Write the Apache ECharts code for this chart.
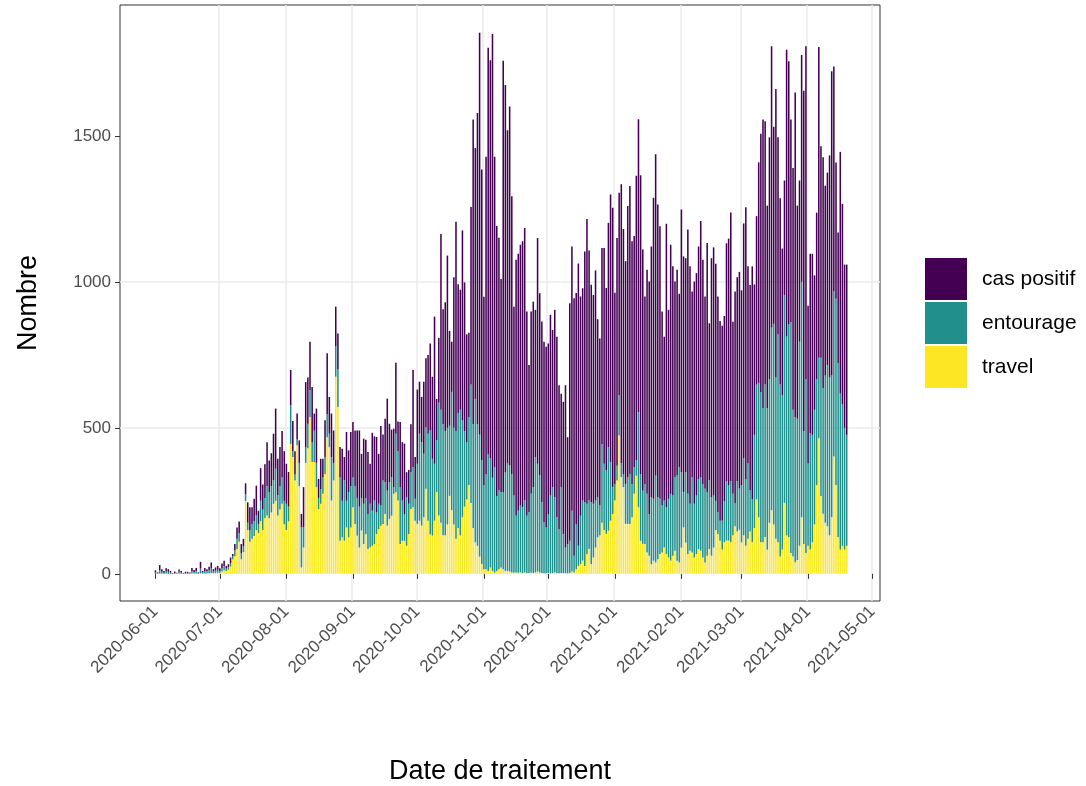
<!DOCTYPE html>
<html>
<head>
<meta charset="utf-8">
<script src="https://cdn.jsdelivr.net/npm/echarts@6/dist/echarts.min.js"></script>
<style>
  html, body { margin: 0; padding: 0; background: #ffffff; }
  #chart { width: 1086px; height: 786px; }
</style>
</head>
<body>
<div id="chart"></div>
<script>
// Daily counts by category, one entry per day starting on firstDay.
const firstDay = '2020-06-01';

const travel = [
  0,0,1,0,0,1,0,0,0,0,
  0,1,0,0,0,0,0,1,1,1,
  0,2,1,1,1,2,3,2,3,4,
  4,8,12,10,14,25,50,60,85,110,
  50,75,250,150,110,120,130,150,140,180,
  150,190,200,190,210,240,250,200,220,240,
  170,150,180,445,400,320,440,300,22,90,
  380,430,537,383,383,297,222,240,274,342,
  468,434,251,320,675,571,113,125,113,159,
  125,159,228,171,131,90,148,102,136,85,
  90,96,102,136,153,165,171,205,165,188,
  199,274,279,251,102,113,113,96,136,222,
  228,182,171,182,165,194,291,182,136,131,
  182,280,200,175,132,132,169,267,218,169,
  120,157,132,194,230,255,304,243,157,108,
  96,59,34,16,16,10,22,10,4,10,
  16,22,16,10,10,8,5,5,5,4,
  5,3,5,3,3,4,3,5,8,5,
  3,2,2,3,2,3,5,3,2,3,
  3,2,2,3,8,5,16,27,33,45,
  27,68,85,33,56,90,125,132,175,150,
  137,148,182,205,251,320,474,331,297,171,
  171,171,194,274,336,228,113,103,102,73,
  62,33,45,39,50,68,73,90,68,56,
  45,62,79,45,39,90,159,107,68,79,
  73,56,68,85,79,56,39,62,85,62,
  90,150,136,113,83,108,114,114,108,132,
  163,145,151,108,132,96,120,145,108,157,
  255,194,108,108,126,83,175,218,169,120,
  108,59,83,243,132,126,71,59,40,47,
  96,194,102,71,96,83,108,169,304,464,
  267,206,175,163,132,194,402,304,126,83,
  96,83,96
];

const entourage = [
  5,2,12,7,4,8,7,4,1,3,
  2,6,4,1,3,3,2,9,5,8,
  2,16,4,8,7,10,15,6,8,10,
  6,12,14,8,9,12,10,20,35,30,
  20,20,23,25,40,50,50,50,30,70,
  70,70,100,90,90,80,110,70,80,90,
  80,90,50,132,20,20,20,80,137,69,
  54,84,92,67,107,83,38,50,56,58,
  79,46,149,60,105,129,217,125,207,91,
  155,141,102,129,129,140,112,138,123,120,
  150,120,149,74,87,69,149,109,120,126,
  132,23,201,169,195,138,92,166,104,126,
  137,75,206,298,286,217,212,298,355,263,
  195,178,386,387,381,356,331,240,405,331,
  368,393,430,331,258,196,233,405,356,491,
  417,417,356,288,325,399,374,319,362,257,
  270,258,264,337,368,363,337,263,194,212,
  229,225,246,196,208,270,294,395,369,332,
  242,175,157,202,266,294,257,191,151,294,
  133,88,100,110,208,57,155,69,166,206,
  218,172,166,212,184,161,137,102,270,227,
  217,286,201,92,57,50,138,49,43,137,
  160,171,114,91,52,326,229,182,206,201,
  143,229,212,298,212,189,161,161,160,201,
  229,206,252,292,326,258,121,241,206,161,
  258,184,200,240,252,252,252,218,235,200,
  178,100,75,69,99,141,203,190,209,142,
  80,172,141,196,264,227,258,141,147,319,
  393,460,515,460,522,485,491,626,687,552,
  712,589,528,712,681,730,791,503,497,484,
  699,806,386,595,282,399,368,393,362,276,
  473,430,504,552,540,485,565,638,595,534,
  484,417,380
];

const casPositif = [
  7,3,17,9,6,10,9,6,2,5,
  2,8,6,2,4,4,3,10,7,11,
  3,23,5,11,8,12,21,8,11,13,
  9,15,19,9,10,19,8,22,39,39,
  32,25,37,70,78,58,77,102,46,112,
  86,115,151,108,113,160,206,124,134,159,
  170,137,119,121,103,80,89,77,46,138,
  223,158,166,190,59,186,65,104,64,126,
  208,126,149,111,135,123,104,178,80,236,
  143,186,190,191,231,261,151,223,200,212,
  137,267,220,259,171,272,157,217,315,200,
  163,200,243,102,223,200,241,86,116,164,
  333,143,254,178,155,247,235,269,298,281,
  504,141,222,602,393,442,590,325,172,516,
  718,442,411,651,510,369,289,608,1043,859,
  1065,1377,995,645,1087,1393,1363,1520,1062,924,
  865,730,1477,1327,1141,1229,951,647,877,880,
  893,911,933,699,504,624,635,504,773,624,
  619,618,619,584,619,538,642,618,493,320,
  453,556,366,814,905,882,791,967,751,727,
  859,975,856,745,715,788,610,572,671,739,
  625,768,916,957,655,780,693,954,841,763,
  929,986,831,792,975,1003,1023,826,642,767,
  796,859,1031,1100,1003,933,664,561,971,647,
  853,785,670,704,594,900,807,733,905,813,
  636,761,762,796,877,768,659,853,538,819,
  850,812,739,684,668,634,815,844,920,589,
  724,699,742,667,804,932,675,703,798,515,
  577,755,884,988,902,693,829,963,675,988,
  675,638,503,392,982,899,694,828,1111,730,
  552,777,1166,1141,540,614,620,460,571,1064,
  724,791,650,659,761,1042,770,467,448,828,
  687,559,583
];

// Month starts shown on the date axis.
const monthTicks = [
  '2020-06-01','2020-07-01','2020-08-01','2020-09-01','2020-10-01','2020-11-01',
  '2020-12-01','2021-01-01','2021-02-01','2021-03-01','2021-04-01','2021-05-01'
];
const countTicks = [0, 500, 1000, 1500];

const seriesNames = ['cas positif', 'entourage', 'travel'];
const seriesColors = ['#440154', '#21908C', '#FDE725'];

// Empty days on either side give the axis its padding around the data.
const padBefore = 16;
const padAfter = 15;

function addDays(iso, n) {
  const t = Date.UTC(+iso.slice(0, 4), +iso.slice(5, 7) - 1, +iso.slice(8, 10)) + n * 86400000;
  return new Date(t).toISOString().slice(0, 10);
}

const categories = [];
for (let i = -padBefore; i < travel.length + padAfter; i++) {
  categories.push(addDays(firstDay, i));
}
function onAxis(values) {
  return categories.map((_, i) => {
    const v = values[i - padBefore];
    return v === undefined ? null : v;
  });
}
const isMonthStart = (idx, value) => monthTicks.indexOf(value) !== -1;

const FONT = '"Liberation Sans", Arial, sans-serif';

function barSeries(name, values, color) {
  return {
    name: name,
    type: 'bar',
    stack: 'total',
    data: onAxis(values),
    barCategoryGap: '28%',
    itemStyle: { color: color },
    emphasis: { disabled: true },
    silent: true
  };
}

const chart = echarts.init(document.getElementById('chart'), null, { renderer: 'canvas' });
chart.setOption({
  animation: false,
  backgroundColor: '#ffffff',
  textStyle: { fontFamily: FONT },
  grid: {
    left: 120, right: 206, top: 5, bottom: 185,
    show: true, borderColor: '#333333', borderWidth: 1,
    backgroundColor: 'transparent',
    containLabel: false,
    outerBoundsMode: 'none'
  },
  legend: {
    orient: 'vertical',
    left: 920, top: 253,
    itemWidth: 42, itemHeight: 42, itemGap: 2,
    icon: 'rect',
    selectedMode: false,
    data: seriesNames,
    textStyle: { fontFamily: FONT, fontSize: 21, color: '#000000', padding: [0, 0, 0, 10] }
  },
  xAxis: {
    type: 'category',
    data: categories,
    boundaryGap: true,
    name: 'Date de traitement',
    nameLocation: 'middle',
    nameGap: 157,
    nameTextStyle: { fontFamily: FONT, fontSize: 27, color: '#000000' },
    axisLine: { show: false },
    axisTick: {
      show: true, alignWithLabel: true, interval: isMonthStart, length: 5,
      lineStyle: { color: '#333333', width: 1 }
    },
    axisLabel: {
      interval: isMonthStart, rotate: 45, margin: 8,
      fontFamily: FONT, fontSize: 17, color: '#4D4D4D'
    },
    splitLine: {
      show: true, interval: isMonthStart, showMinLine: false, showMaxLine: false,
      lineStyle: { color: '#EBEBEB', width: 1.5 }
    }
  },
  yAxis: {
    type: 'value',
    min: -93, max: 1948,
    minInterval: 500, maxInterval: 500,
    name: 'Nombre',
    nameLocation: 'middle',
    nameGap: 78,
    nameTextStyle: { fontFamily: FONT, fontSize: 27, color: '#000000' },
    axisLine: { show: false },
    axisTick: {
      show: true, length: 5, customValues: countTicks,
      lineStyle: { color: '#333333', width: 1 }
    },
    axisLabel: {
      customValues: countTicks, margin: 9,
      formatter: (v) => String(v),
      fontFamily: FONT, fontSize: 17, color: '#4D4D4D'
    },
    splitLine: {
      show: true, showMinLine: false, showMaxLine: false,
      lineStyle: { color: '#EBEBEB', width: 1.5 }
    }
  },
  series: [
    barSeries('travel', travel, seriesColors[2]),
    barSeries('entourage', entourage, seriesColors[1]),
    barSeries('cas positif', casPositif, seriesColors[0])
  ]
});
</script>
</body>
</html>
